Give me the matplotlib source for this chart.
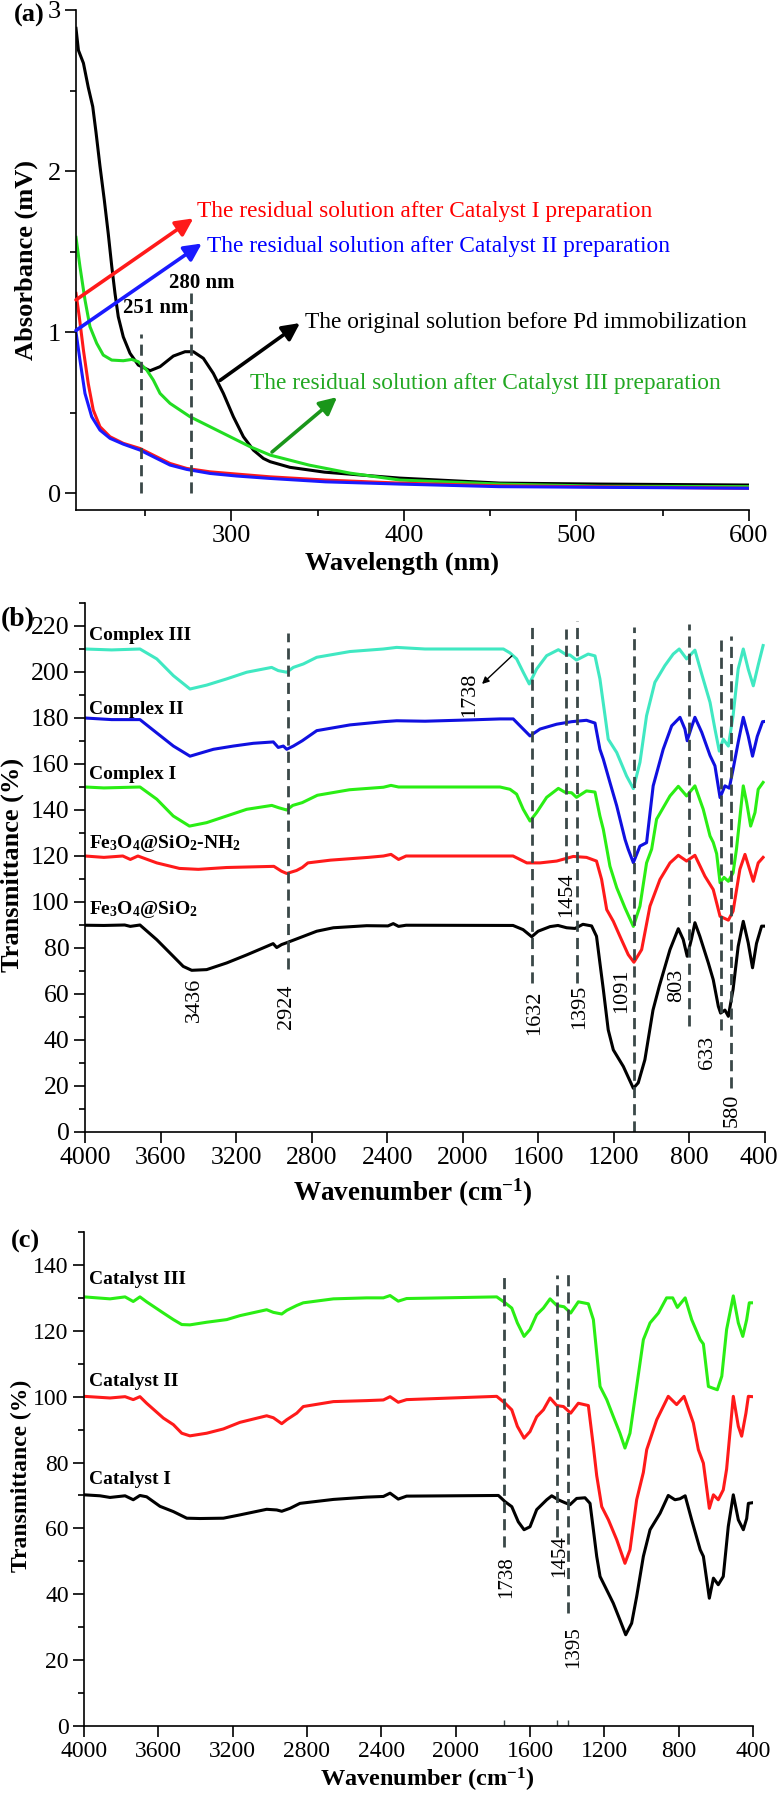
import matplotlib
matplotlib.use("Agg")
import matplotlib.pyplot as plt
from matplotlib.ticker import MultipleLocator
from matplotlib.transforms import ScaledTranslation

plt.rcParams['font.family'] = ['Liberation Serif', 'DejaVu Serif']
plt.rcParams['mathtext.fontset'] = 'custom'
plt.rcParams['mathtext.rm'] = 'Liberation Serif:bold'
plt.rcParams['mathtext.it'] = 'Liberation Serif:italic:bold'
plt.rcParams['mathtext.bf'] = 'Liberation Serif:bold'

# ---------------- panel (a) UV-vis ----------------
wl_black = [210, 211.4, 214.3, 217.1, 219.7, 221.6, 223.9, 226.4, 228.7, 230.7, 232.6, 234.5, 237.4, 241.3,
            246.1, 252.9, 258.7, 266.4, 273.2, 278, 283.8, 289.6, 295.4, 301.2, 307, 312.8, 318.6, 322.5,
            334, 354, 397.7, 455.6, 513.5, 600]
abs_black = [2.886, 2.75, 2.67, 2.52, 2.40, 2.24, 2.03, 1.82, 1.61, 1.41, 1.24, 1.095, 0.97, 0.868,
             0.795, 0.76, 0.785, 0.851, 0.878, 0.878, 0.837, 0.743, 0.619, 0.474, 0.35, 0.267, 0.215, 0.195,
             0.16, 0.13, 0.093, 0.062, 0.056, 0.05]
wl_green = [210, 212.3, 215.2, 218.1, 222, 225.8, 230.7, 237.4, 242.3, 246.1, 251, 254.8, 258.7, 264.5,
            276.1, 287.7, 299.3, 310.9, 322.5, 345, 368.8, 397.7, 455.6, 513.5, 600]
abs_green = [1.588, 1.406, 1.2, 1.033, 0.93, 0.857, 0.826, 0.822, 0.83, 0.816, 0.764, 0.702, 0.619, 0.557,
             0.474, 0.412, 0.35, 0.288, 0.236, 0.174, 0.124, 0.081, 0.056, 0.043, 0.04]
wl_red = [210, 211.9, 214.3, 217.1, 220, 223.9, 229.7, 237.4, 247.1, 256.8, 264.5, 274.2, 287.7, 303.2,
          322.5, 354.5, 397.7, 455, 600]
abs_red = [1.24, 1.095, 0.888, 0.68, 0.516, 0.412, 0.35, 0.309, 0.277, 0.225, 0.184, 0.153, 0.132, 0.118,
           0.101, 0.081, 0.062, 0.045, 0.03]
wl_blue = [210, 212.3, 215.2, 219.1, 223.9, 229.7, 237.4, 247.1, 256.8, 264.5, 274.2, 287.7, 303.2, 322.5,
           354.5, 397.7, 455, 600]
abs_blue = [1.0, 0.826, 0.619, 0.474, 0.391, 0.34, 0.304, 0.267, 0.215, 0.174, 0.147, 0.122, 0.106, 0.091,
            0.07, 0.056, 0.04, 0.03]
peaks_a = [247.5, 276.5]
peak_top_a = [0.99, 1.24]
peak_labels_a = ['251 nm', '280 nm']
peak_label_x_a = [256, 283]
peak_label_y_a = [1.147, 1.306]

# ---------------- panel (b) FTIR complexes ----------------
wn_b0 = [4000, 3900, 3790, 3760, 3709, 3620, 3533, 3480, 3435, 3356, 3250, 3144, 3038, 3004, 2985, 2959,
         2932, 2862, 2773, 2685, 2509, 2396, 2368, 2340, 2300, 1734, 1681, 1635, 1601, 1538, 1496, 1450,
         1406, 1364, 1318, 1292, 1274, 1256, 1230, 1203, 1150, 1097, 1071, 1036, 993, 960, 903, 859, 833,
         812, 789, 771, 745, 700, 674, 647, 635, 612, 594, 569, 542, 515, 489, 466, 445, 418, 400]
t_b0 = [89.9, 89.8, 90, 89.4, 90, 83.6, 76.4, 72, 70.3, 70.6, 73.5, 77, 80.7, 81.9, 80.2, 81.5,
        82.3, 84.5, 87.3, 88.8, 89.7, 89.6, 90.6, 89.4, 89.9, 89.8, 88, 84.9, 87.3, 89.3, 89.8, 88.8,
        88.5, 90.3, 89.6, 85.1, 73.5, 62, 44.4, 35.7, 28.5, 19, 21.4, 31.4, 53, 63.3, 79.3, 88.4, 83.7,
        76.4, 84, 91, 85.1, 73.5, 66.2, 54.6, 51.7, 53, 50.3, 62, 80.7, 91.6, 82.3, 71.4, 82, 89.5, 89.5]

wn_b1 = [4000, 3900, 3800, 3760, 3720, 3620, 3500, 3400, 3250, 3000, 2960, 2932, 2880, 2850, 2820, 2700,
         2500, 2420, 2380, 2340, 2300, 1734, 1661, 1591, 1503, 1415, 1345, 1292, 1265, 1238, 1203, 1168,
         1124, 1094, 1053, 1009, 956, 903, 859, 815, 771, 718, 674, 638, 594, 569, 533, 506, 462, 436, 410]
t_b1 = [120, 119.4, 120, 118.5, 120, 117, 114.6, 114.2, 115, 115.5, 113.4, 112.4, 113.7, 115, 117, 118.2,
        119.4, 120, 120.7, 118.5, 120, 120, 117, 117, 117.8, 119.8, 119.4, 117.8, 109.8, 96.7, 91.6, 85.1,
        77.1, 73.8, 79.3, 98.2, 109.8, 117, 120.3, 117.8, 120.3, 111.2, 105.4, 93.8, 92.1, 96, 114.2, 120.7,
        109, 117, 119.4]

wn_b2 = [4000, 3900, 3709, 3620, 3533, 3447, 3356, 3250, 3144, 3011, 2975, 2932, 2900, 2850, 2770, 2600,
         2420, 2380, 2340, 2300, 1803, 1750, 1715, 1680, 1644, 1609, 1556, 1494, 1459, 1424, 1398, 1345,
         1300, 1274, 1256, 1221, 1185, 1141, 1097, 1062, 1027, 1000, 974, 903, 859, 815, 771, 727, 691,
         674, 656, 638, 617, 594, 569, 551, 515, 497, 476, 453, 436, 410]
t_b2 = [150, 149.6, 150, 144.7, 137.4, 133, 134.5, 137.4, 140.3, 142, 141, 140, 142, 143.2, 146.4, 148.8,
        149.9, 150.7, 150, 150, 150, 149, 146.9, 140.3, 135.2, 138.9, 145.5, 149.4, 147.7, 147.5, 145.5, 148.3,
        147.8, 137.4, 131.6, 115.6, 106.2, 97.4, 89.4, 98.2, 117, 123, 136, 146.1, 150.3, 146.1, 150.5, 140.3,
        128.7, 125.9, 121, 108.4, 110.7, 109, 112.7, 123, 150.5, 143.2, 133, 138.9, 149, 152]

wn_b3 = [4000, 3859, 3709, 3620, 3532, 3444, 3320, 3215, 3109, 3003, 2977, 2950, 2932, 2897, 2850, 2773,
         2597, 2421, 2350, 2200, 1950, 1803, 1733, 1697, 1644, 1591, 1503, 1424, 1345, 1300, 1274, 1256,
         1221, 1185, 1141, 1124, 1097, 1062, 1027, 992, 939, 894, 850, 824, 812, 789, 771, 735, 691, 665,
         638, 612, 589, 569, 542, 515, 489, 466, 441, 413, 400]
t_b3 = [180, 179.3, 179.3, 173.5, 167.8, 163.4, 166.4, 167.8, 169, 169.6, 167.2, 167.8, 166.4, 167.8, 170.1,
        174.5, 177, 178.4, 178.8, 178.6, 179.2, 179.6, 179.6, 176.6, 172.2, 175.2, 177.3, 178.4, 179, 177.8,
        166.4, 162.1, 152, 141.8, 127.2, 122.9, 117.1, 124.3, 125.8, 150.5, 166.4, 176.6, 180.3, 175.2, 170.1,
        176, 180.3, 173.8, 163.7, 159.2, 145.4, 150.5, 149.5, 157.7, 169.4, 180.3, 172.2, 163.4, 172, 178.4,
        178.5]

wn_b4 = [4000, 3859, 3709, 3620, 3532, 3444, 3356, 3250, 3144, 3012, 2977, 2932, 2897, 2844, 2773, 2597,
         2421, 2350, 2200, 1785, 1750, 1715, 1680, 1648, 1609, 1556, 1494, 1450, 1433, 1398, 1336, 1300,
         1274, 1247, 1230, 1185, 1133, 1097, 1062, 1027, 983, 930, 886, 854, 815, 771, 735, 691, 665, 642,
         621, 594, 569, 542, 515, 489, 462, 436, 410]
t_b4 = [210, 209.6, 210, 205.7, 198.4, 192.6, 194.3, 197, 199.9, 202, 200.6, 199.9, 202, 203.5, 206.4, 208.9,
        210, 210.7, 210, 210, 208.3, 205.7, 199.9, 194.8, 201.3, 207.1, 209.7, 207.4, 207.4, 205.2, 207.8, 207,
        197, 181, 170.8, 165, 154.8, 149.3, 160.7, 181, 195.5, 202.8, 207.8, 210, 205.7, 209.5, 199.1, 186.8,
        175.2, 165.6, 170.8, 167.8, 181, 201.3, 210, 201.3, 194, 203, 211.5]

names_b = ['Fe$_3$O$_4$@SiO$_2$', 'Fe$_3$O$_4$@SiO$_2$-NH$_2$', 'Complex I', 'Complex II', 'Complex III']
colors_b = ['black', '#ff1a1a', '#2aee14', '#1010e0', '#40e8c2']
label_y_b = [96.7, 125.5, 155.6, 183.9, 215.7]
peaks_b = [2924, 1632, 1454, 1395, 1091, 803, 633, 580]
peak_top_b = [217, 220, 218.7, 222, 219.6, 221, 215, 215.7]
peak_bot_b = [71, 65, 117, 65, 0, 46, 44.5, 19]
peak_labels_b = ['3436', '2924', '1632', '1454', '1395', '1091', '803', '633', '580']
peak_label_x_b = [3418, 2931, 1618, 1448, 1380, 1157, 866, 702, 575]
peak_label_y_b = [57.5, 54.5, 51.9, 103, 54.5, 61.4, 63.6, 34.4, 9.6]

# ---------------- panel (c) FTIR catalysts ----------------
wn_c0 = [4000, 3914, 3860, 3779, 3735, 3699, 3663, 3591, 3519, 3447, 3376, 3250, 3161, 3017, 2963, 2936,
         2891, 2838, 2658, 2479, 2389, 2353, 2309, 2264, 1770, 1734, 1698, 1663, 1632, 1600, 1564, 1510,
         1483, 1448, 1412, 1385, 1349, 1304, 1277, 1259, 1241, 1223, 1187, 1152, 1116, 1085, 1053, 1026,
         990, 954, 900, 856, 820, 793, 765, 730, 684, 667, 635, 613, 587, 560, 533, 506, 479, 452, 434, 425, 402]
t_c0 = [70.2, 69.9, 69.4, 69.9, 68.7, 70, 69.6, 66.7, 65.1, 63.1, 63, 63.1, 64.1, 65.8, 65.6, 65.2,
        66.1, 67.6, 68.8, 69.5, 69.7, 70.7, 68.9, 69.8, 70, 68.1, 66.6, 62, 59.6, 60.5, 65.7, 68.7,
        69.9, 68.7, 67.8, 67.2, 69.1, 69.3, 67.6, 59.6, 51.5, 45.4, 41.3, 37.3, 32.2, 27.7, 31.2, 39.3,
        51.5, 59.6, 64.6, 70, 68.7, 69, 69.9, 62.6, 53.5, 51.5, 38.8, 44.9, 42.9, 45.4, 60.6, 70.2, 62.6,
        59.6, 63, 67.6, 67.8]

wn_c1 = [4000, 3860, 3779, 3735, 3699, 3663, 3573, 3519, 3474, 3430, 3340, 3250, 3161, 3017, 2981, 2936,
         2909, 2855, 2820, 2658, 2479, 2389, 2353, 2309, 2264, 1779, 1734, 1698, 1668, 1632, 1600, 1564,
         1528, 1492, 1456, 1420, 1381, 1340, 1286, 1259, 1241, 1214, 1178, 1133, 1089, 1062, 1026, 990,
         972, 918, 856, 811, 771, 721, 694, 667, 635, 613, 587, 560, 542, 506, 479, 461, 438, 425, 402]
t_c1 = [100.1, 99.6, 100, 99.1, 100, 98, 93.5, 91.5, 88.9, 88.1, 88.9, 90.2, 92.2, 94.2, 93.6, 91.8,
        93, 95, 97, 98.5, 98.8, 99, 100, 98.3, 99.1, 100.1, 98, 96, 91, 87.4, 89.4, 93.9,
        96, 99.6, 97.3, 97, 95, 98, 97.3, 84.9, 76, 66.6, 62.6, 56.5, 49.4, 53.5, 68.7, 77,
        83.9, 93, 100.1, 97.6, 100.1, 92, 83.9, 79.8, 66.1, 70.2, 68.7, 71.7, 78, 100.1, 91, 88, 95, 100.1, 100]

wn_c2 = [4000, 3860, 3779, 3735, 3699, 3663, 3573, 3519, 3474, 3430, 3340, 3232, 3161, 3017, 2981, 2936,
         2909, 2855, 2820, 2658, 2479, 2389, 2353, 2309, 2264, 1779, 1734, 1698, 1668, 1632, 1600, 1564,
         1528, 1492, 1456, 1417, 1381, 1340, 1286, 1259, 1241, 1223, 1187, 1152, 1116, 1089, 1062, 1026,
         990, 954, 909, 865, 832, 807, 765, 730, 684, 667, 640, 617, 592, 568, 542, 506, 479, 455, 434, 420, 402]
t_c2 = [130.3, 129.7, 130.3, 128.9, 130.3, 128.8, 125.4, 123.4, 121.9, 121.8, 122.6, 123.4, 124.6, 126.4, 125.6, 125.1,
        126.2, 127.7, 128.5, 129.7, 130, 130, 130.7, 129, 129.8, 130.3, 128.5, 126.9, 122.4, 118.3, 120.4, 124.9,
        126.9, 129.7, 127.7, 127.3, 125.4, 128.8, 128.2, 123.4, 113.2, 103.1, 99.1, 94, 88.9, 84.4, 88.9, 103.1,
        117.3, 122.4, 125.4, 130, 130, 127.1, 130, 123.4, 117.3, 116, 103.1, 102.6, 102.1, 106.2, 120.4, 130.6,
        122.4, 118.3, 123.4, 128.5, 128.5]

names_c = ['Catalyst I', 'Catalyst II', 'Catalyst III']
colors_c = ['black', '#ff1a1a', '#2aee14']
label_y_c = [74.8, 104.7, 135.6]
peaks_c = [1738, 1454, 1395]
peak_top_c = [137.8, 137, 138.6]
peak_bot_c = [54.5, 57.5, 34.2]
peak_label_x_c = [1726, 1439, 1367]
peak_label_y_c = [45.3, 51.7, 24]

wn_ticks = [4000, 3600, 3200, 2800, 2400, 2000, 1600, 1200, 800, 400]

DASH = '#3a4848'
W, H = 780, 1793

fig = plt.figure(figsize=(7.8, 17.93), dpi=100)


def style(ax, fs=17):
    for s in ['top', 'right']:
        ax.spines[s].set_visible(False)
    for s in ['left', 'bottom']:
        ax.spines[s].set_linewidth(1.2)
    ax.tick_params(which='major', direction='out', length=8, width=1.2, labelsize=fs, pad=3)
    ax.tick_params(which='minor', direction='out', length=4.5, width=1.2)


def box(l, t, r, b):
    return [l / W, 1 - b / H, (r - l) / W, (b - t) / H]


def arrow(ax, tail, tip, color, lw=2.6, ms=26):
    ax.annotate('', xy=tip, xytext=tail,
                arrowprops=dict(arrowstyle='-|>', color=color, lw=lw, mutation_scale=ms,
                                shrinkA=0, shrinkB=0))


def wn_axis(ax, shift_px):
    ax.set_xlim(4000, 400)
    ax.set_xticks(wn_ticks, [str(t) for t in wn_ticks])
    last = ax.get_xticklabels()[-1]
    last.set_transform(last.get_transform() + ScaledTranslation(-shift_px / 100, 0, fig.dpi_scale_trans))


# ---- (a) ----
ax = fig.add_axes(box(76, 10, 749, 510))
style(ax, 19)
ax.plot(wl_black, abs_black, color='black', lw=2.2)
ax.plot(wl_green, abs_green, color='#22dd22', lw=2.2)
ax.plot(wl_red, abs_red, color='#ff1a1a', lw=2.2)
ax.plot(wl_blue, abs_blue, color='#1a1aff', lw=2.2)
ax.set_xlim(210, 600)
ax.set_ylim(-0.105, 3.0)
ax.xaxis.set_major_locator(MultipleLocator(100))
ax.xaxis.set_minor_locator(MultipleLocator(50))
ax.yaxis.set_major_locator(MultipleLocator(1))
ax.yaxis.set_minor_locator(MultipleLocator(0.5))
for p, top in zip(peaks_a, peak_top_a):
    ax.vlines(p, 0, top, colors=DASH, lw=2.0, linestyles=(0, (4, 2.2)))
for s, x, y in zip(peak_labels_a, peak_label_x_a, peak_label_y_a):
    ax.text(x, y, s, fontsize=15, fontweight='bold', ha='center', va='center')

arrow(ax, (210, 1.2), (278, 1.706), '#ff1a1a')
arrow(ax, (210, 1.01), (282.9, 1.55), '#1a1aff')
arrow(ax, (293.5, 0.70), (339.8, 1.056), 'black')
arrow(ax, (323.6, 0.255), (361.3, 0.596), '#1a961a')
ax.text(280.1, 1.75, 'The residual solution after Catalyst I preparation', color='#ff0000',
        fontsize=16.8, va='center')
ax.text(285.9, 1.53, 'The residual solution after Catalyst II preparation', color='#0000ff',
        fontsize=16.8, va='center')
ax.text(342.8, 1.06, 'The original solution before Pd immobilization', color='black',
        fontsize=16.8, va='center')
ax.text(310.9, 0.683, 'The residual solution after Catalyst III preparation', color='#22a822',
        fontsize=16.8, va='center')
fig.text(29 / W, 1 - 15 / H, '(a)', fontsize=19, fontweight='bold', ha='center', va='center')
fig.text(26 / W, 1 - 260 / H, 'Absorbance (mV)', fontsize=19, fontweight='bold', rotation=90,
         ha='center', va='center')
fig.text(402 / W, 1 - 563 / H, 'Wavelength (nm)', fontsize=19, fontweight='bold', ha='center', va='center')

# ---- (b) ----
ax = fig.add_axes(box(85, 603, 765, 1132))
style(ax, 18.5)
for wn, t, c in zip([wn_b0, wn_b1, wn_b2, wn_b3, wn_b4], [t_b0, t_b1, t_b2, t_b3, t_b4], colors_b):
    ax.plot(wn, t, color=c, lw=2.2)
wn_axis(ax, 6)
ax.set_ylim(0, 230)
ax.yaxis.set_major_locator(MultipleLocator(20))
ax.yaxis.set_minor_locator(MultipleLocator(10))
for p, top, bot in zip(peaks_b, peak_top_b, peak_bot_b):
    ax.vlines(p, bot, top, colors=DASH, lw=2.0, linestyles=(0, (4, 2.2)))
for s, x, y in zip(peak_labels_b, peak_label_x_b, peak_label_y_b):
    ax.text(x, y, s, rotation=90, fontsize=16, ha='center', va='center')
for n, y in zip(names_b, label_y_b):
    ax.text(3979, y, n, fontsize=14, fontweight='bold', ha='left', va='center')
ax.text(1962, 190, '1738', rotation=90, fontsize=16, ha='center', va='center')
ax.annotate('', xy=(1898, 194.8), xytext=(1740, 207),
            arrowprops=dict(arrowstyle='-|>', color='black', lw=1.0, mutation_scale=10,
                            shrinkA=0, shrinkB=0))
fig.text(18 / W, 1 - 620 / H, '(b)', fontsize=20, fontweight='bold', ha='center', va='center')
fig.text(12 / W, 1 - 865 / H, 'Transmittance (%)', fontsize=19, fontweight='bold', rotation=90,
         ha='center', va='center')
fig.text(413 / W, 1 - 1193 / H, 'Wavenumber (cm$^{-1}$)', fontsize=19.5, fontweight='bold',
         ha='center', va='center')

# ---- (c) ----
ax = fig.add_axes(box(84, 1232, 753, 1726))
style(ax, 17)
for wn, t, c in zip([wn_c0, wn_c1, wn_c2], [t_c0, t_c1, t_c2], colors_c):
    ax.plot(wn, t, color=c, lw=2.2)
wn_axis(ax, 0)
ax.set_ylim(0, 150)
ax.yaxis.set_major_locator(MultipleLocator(20))
ax.yaxis.set_minor_locator(MultipleLocator(10))
for p, top, bot in zip(peaks_c, peak_top_c, peak_bot_c):
    ax.vlines(p, bot, top, colors=DASH, lw=2.0, linestyles=(0, (4, 2.2)))
    ax.vlines(p, 0, 1.8, colors=DASH, lw=1.0)
for p, x, y in zip(peaks_c, peak_label_x_c, peak_label_y_c):
    ax.text(x, y, str(p), rotation=90, fontsize=15, ha='center', va='center')
for n, y in zip(names_c, label_y_c):
    ax.text(3973, y, n, fontsize=14, fontweight='bold', ha='left', va='center')
fig.text(25 / W, 1 - 1241 / H, '(c)', fontsize=19, fontweight='bold', ha='center', va='center')
fig.text(21 / W, 1 - 1476 / H, 'Transmittance (%)', fontsize=17, fontweight='bold', rotation=90,
         ha='center', va='center')
fig.text(427 / W, 1 - 1780 / H, 'Wavenumber (cm$^{-1}$)', fontsize=17.5, fontweight='bold',
         ha='center', va='center')

fig.savefig('out.png', dpi=100)
